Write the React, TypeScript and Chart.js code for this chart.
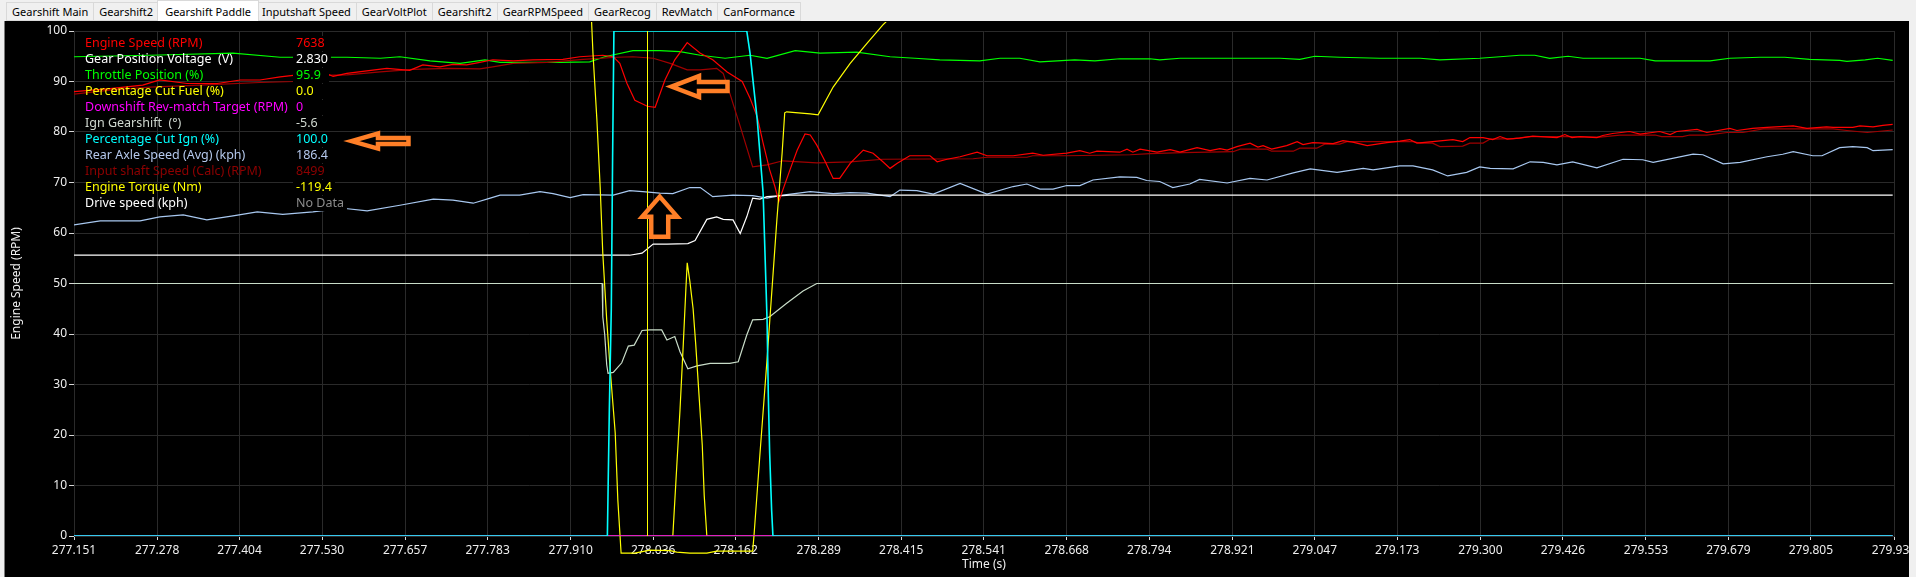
import { useEffect, useRef } from 'react';
import { Chart, registerables } from 'chart.js';

Chart.register(...registerables);

const FONT = '"Noto Sans", "DejaVu Sans", sans-serif';

const tabNames = ['Gearshift Main', 'Gearshift2', 'Gearshift Paddle', 'Inputshaft Speed', 'GearVoltPlot', 'Gearshift2', 'GearRPMSpeed', 'GearRecog', 'RevMatch', 'CanFormance'];
const activeTab = 2;

const xMin = 277.151;
const xMax = 279.932;
const xTickLabels = ['277.151', '277.278', '277.404', '277.530', '277.657', '277.783', '277.910', '278.036', '278.162', '278.289', '278.415', '278.541', '278.668', '278.794', '278.921', '279.047', '279.173', '279.300', '279.426', '279.553', '279.679', '279.805', '279.932'];
const yMin = 0;
const yMax = 100;
const yStep = 10;
const cursorTime = 278.027;

// Throttle Position (%)
const throttleT = [277.151, 277.267, 277.394, 277.466, 277.568, 277.619, 277.649, 277.695, 277.741, 277.779, 277.802, 277.894, 277.939, 277.962, 278.005, 278.046, 278.077, 278.108, 278.146, 278.184, 278.210, 278.253, 278.291, 278.347, 278.398, 278.436, 278.474, 278.535, 278.566, 278.596, 278.627, 278.680, 278.711, 278.749, 278.795, 278.810, 278.841, 278.994, 279.024, 279.047, 279.085, 279.146, 279.208, 279.238, 279.299, 279.330, 279.360, 279.383, 279.406, 279.434, 279.457, 279.544, 279.567, 279.651, 279.681, 279.727, 279.765, 279.803, 279.849, 279.860, 279.888, 279.907, 279.930];
const throttleV = [94.9, 95.2, 95.6, 94.8, 94.8, 94.6, 94.9, 94.1, 93.6, 94.3, 93.8, 93.8, 93.9, 94.9, 96.1, 96.1, 95.9, 95.2, 94.6, 95.2, 94.6, 96.1, 95.6, 95.8, 94.9, 94.6, 94.3, 94.1, 94.6, 94.6, 93.9, 94.3, 94.1, 94.5, 94.5, 94.3, 94.6, 94.6, 94.4, 95.0, 94.8, 94.6, 94.6, 94.3, 94.6, 94.9, 95.2, 95.2, 94.6, 95.0, 94.6, 94.6, 94.1, 94.1, 94.6, 94.8, 94.8, 94.4, 94.2, 94.0, 94.3, 94.6, 94.2];

// Engine Speed (scaled)
const engineT = [277.151, 277.206, 277.256, 277.282, 277.324, 277.370, 277.405, 277.435, 277.466, 277.486, 277.531, 277.547, 277.568, 277.629, 277.664, 277.684, 277.710, 277.730, 277.751, 277.771, 277.791, 277.822, 277.852, 277.898, 277.924, 277.959, 277.975, 277.985, 277.996, 278.008, 278.027, 278.039, 278.054, 278.069, 278.088, 278.108, 278.127, 278.149, 278.172, 278.184, 278.195, 278.204, 278.214, 278.222, 278.228, 278.234, 278.245, 278.256, 278.268, 278.276, 278.286, 278.299, 278.311, 278.321, 278.337, 278.357, 278.372, 278.387, 278.398, 278.409, 278.428, 278.459, 278.470, 278.485, 278.505, 278.531, 278.546, 278.586, 278.616, 278.632, 278.668, 278.688, 278.703, 278.714, 278.749, 278.760, 278.769, 278.780, 278.806, 278.826, 278.841, 278.867, 278.887, 278.902, 278.913, 278.928, 278.948, 278.960, 278.968, 278.981, 279.004, 279.020, 279.029, 279.044, 279.075, 279.090, 279.105, 279.127, 279.157, 279.177, 279.192, 279.203, 279.227, 279.258, 279.273, 279.284, 279.304, 279.319, 279.330, 279.341, 279.360, 279.380, 279.417, 279.429, 279.440, 279.452, 279.478, 279.487, 279.502, 279.528, 279.544, 279.574, 279.590, 279.600, 279.631, 279.646, 279.681, 279.692, 279.716, 279.738, 279.778, 279.799, 279.829, 279.839, 279.869, 279.880, 279.900, 279.915, 279.930];
const engineV = [88.0, 88.6, 89.3, 90.3, 89.6, 89.6, 90.3, 90.3, 90.9, 91.2, 91.9, 91.0, 91.6, 92.6, 92.2, 93.3, 92.9, 93.4, 93.3, 93.8, 94.3, 94.1, 94.3, 94.4, 94.9, 95.2, 94.9, 93.6, 89.6, 86.3, 85.1, 84.9, 90.3, 94.3, 97.7, 95.6, 94.3, 91.9, 90.0, 86.7, 83.0, 77.8, 72.5, 69.2, 66.2, 68.5, 72.5, 76.4, 79.6, 79.4, 77.4, 74.1, 70.8, 70.8, 73.8, 76.4, 75.8, 74.1, 72.8, 73.8, 75.3, 75.3, 74.1, 74.6, 75.1, 76.0, 75.3, 75.3, 75.8, 75.4, 75.8, 76.3, 75.8, 76.2, 76.0, 76.6, 76.0, 76.6, 76.0, 76.5, 76.0, 76.9, 76.3, 76.7, 76.4, 77.1, 77.8, 77.0, 77.3, 76.6, 77.3, 78.1, 77.5, 77.9, 77.7, 78.3, 78.0, 77.3, 77.9, 78.2, 78.5, 77.8, 78.1, 78.5, 78.1, 78.9, 78.9, 78.5, 79.1, 78.6, 78.8, 79.2, 78.9, 79.5, 78.9, 79.1, 78.9, 79.3, 79.7, 80.1, 79.6, 80.1, 79.5, 80.1, 80.5, 79.9, 80.7, 80.3, 80.7, 80.9, 81.2, 80.7, 81.0, 80.9, 80.9, 81.2, 81.0, 81.3, 81.5];

// Input shaft Speed (Calc) (scaled)
const inputT = [277.151, 277.206, 277.267, 277.343, 277.435, 277.486, 277.531, 277.568, 277.619, 277.669, 277.721, 277.771, 277.791, 277.822, 277.874, 277.929, 277.981, 278.005, 278.036, 278.062, 278.088, 278.108, 278.133, 278.143, 278.153, 278.169, 278.188, 278.210, 278.234, 278.286, 278.337, 278.387, 278.525, 278.546, 278.607, 278.616, 278.668, 278.765, 278.795, 278.845, 278.922, 278.933, 278.974, 278.981, 279.014, 279.024, 279.050, 279.062, 279.085, 279.096, 279.197, 279.208, 279.227, 279.238, 279.273, 279.284, 279.304, 279.315, 279.350, 279.376, 279.432, 279.483, 279.513, 279.567, 279.577, 279.609, 279.620, 279.646, 279.677, 279.701, 279.732, 279.839, 279.860, 279.891, 279.930];
const inputV = [87.5, 88.3, 88.9, 89.3, 89.8, 90.0, 91.2, 91.3, 91.9, 92.4, 92.6, 92.5, 92.9, 93.6, 93.8, 94.4, 94.8, 94.9, 94.6, 93.6, 92.3, 92.3, 92.6, 91.6, 87.7, 81.1, 73.1, 73.5, 74.3, 73.9, 74.1, 74.6, 74.7, 75.0, 75.0, 75.3, 75.3, 75.5, 75.7, 75.9, 76.1, 76.6, 76.6, 76.2, 76.2, 76.8, 76.8, 77.6, 77.6, 78.1, 78.1, 77.8, 77.8, 77.1, 77.2, 77.8, 77.8, 78.6, 78.7, 79.1, 79.1, 79.0, 79.4, 79.4, 79.1, 79.1, 79.4, 79.4, 79.9, 79.9, 80.6, 80.6, 80.3, 79.9, 80.4];

// Rear Axle Speed (Avg) (scaled)
const axleT = [277.151, 277.191, 277.252, 277.282, 277.318, 277.354, 277.394, 277.431, 277.470, 277.516, 277.562, 277.599, 277.649, 277.700, 277.730, 277.761, 277.787, 277.802, 277.832, 277.863, 277.883, 277.909, 277.929, 277.975, 278.000, 278.020, 278.046, 278.066, 278.092, 278.108, 278.127, 278.158, 278.188, 278.210, 278.234, 278.276, 278.311, 278.337, 278.363, 278.398, 278.413, 278.439, 278.464, 278.505, 278.546, 278.586, 278.607, 278.627, 278.647, 278.668, 278.688, 278.708, 278.749, 278.775, 278.790, 278.810, 278.830, 278.856, 278.871, 278.913, 278.948, 278.974, 279.014, 279.040, 279.081, 279.121, 279.136, 279.177, 279.197, 279.227, 279.250, 279.279, 279.299, 279.315, 279.350, 279.376, 279.396, 279.417, 279.441, 279.478, 279.518, 279.548, 279.564, 279.625, 279.640, 279.671, 279.697, 279.738, 279.762, 279.778, 279.808, 279.822, 279.849, 279.869, 279.891, 279.900, 279.930];
const axleV = [61.6, 62.4, 62.4, 63.2, 63.6, 62.6, 63.4, 64.2, 63.7, 64.2, 64.9, 64.4, 65.5, 66.7, 66.5, 65.9, 66.9, 67.5, 67.5, 68.2, 67.8, 67.0, 67.6, 67.5, 68.4, 68.2, 67.9, 67.8, 69.0, 69.0, 67.2, 67.5, 67.4, 66.9, 67.5, 68.2, 67.8, 68.0, 67.9, 67.2, 68.5, 68.4, 67.7, 69.8, 67.7, 69.2, 69.7, 68.7, 68.7, 69.4, 69.4, 70.5, 71.1, 71.0, 70.4, 70.2, 69.0, 69.7, 70.6, 69.9, 70.8, 70.5, 71.9, 72.7, 72.0, 72.8, 72.5, 73.3, 73.3, 72.5, 71.3, 72.0, 73.1, 72.8, 72.7, 74.1, 74.0, 73.5, 74.1, 72.9, 74.6, 74.5, 74.0, 75.6, 75.5, 73.7, 74.0, 75.1, 75.6, 76.1, 75.3, 75.3, 76.9, 77.1, 76.9, 76.3, 76.5];

// Gear Position Voltage (scaled)
const gearVoltT = [277.151, 278.000, 278.019, 278.036, 278.057, 278.089, 278.100, 278.118, 278.133, 278.143, 278.158, 278.169, 278.179, 278.188, 278.199, 278.210, 278.245, 279.930];
const gearVoltV = [55.6, 55.6, 56.0, 57.8, 57.8, 57.9, 58.5, 62.7, 63.2, 62.7, 62.6, 59.9, 63.2, 66.9, 66.7, 67.2, 67.5, 67.5];

// Ign Gearshift (scaled)
const ignT = [277.151, 277.958, 277.959, 277.962, 277.965, 277.967, 277.975, 277.988, 277.998, 278.007, 278.019, 278.031, 278.049, 278.057, 278.069, 278.077, 278.089, 278.103, 278.123, 278.153, 278.166, 278.179, 278.188, 278.204, 278.214, 278.240, 278.265, 278.286, 279.930];
const ignV = [50.0, 50.0, 43.4, 39.8, 33.9, 32.2, 32.4, 34.3, 37.6, 37.8, 40.7, 40.8, 40.8, 38.8, 39.5, 36.5, 33.1, 33.7, 34.2, 34.2, 34.5, 39.8, 42.8, 42.9, 43.4, 46.1, 48.5, 50.0, 50.0];

// Percentage Cut Ign (%)
const cutIgnT = [277.151, 277.966, 277.969, 277.972, 277.974, 277.976, 278.179, 278.184, 278.195, 278.204, 278.210, 278.212, 278.214, 278.217, 278.219, 279.930];
const cutIgnV = [0, 0, 25, 45, 75, 100, 100, 95.6, 82.4, 67.9, 42.8, 27.5, 16.4, 5.1, 0, 0];

// Downshift Rev-match Target
const revMatchT = [277.151, 279.930];
const revMatchV = [0, 0];

// Percentage Cut Fuel (%)
const cutFuelT = [277.151, 278.066, 278.072, 278.077, 278.082, 278.086, 278.088, 278.092, 278.097, 278.101, 278.106, 278.111, 278.114, 278.118, 279.930];
const cutFuelV = [0, 0, 13.7, 25, 38, 49, 54.1, 50.5, 45, 38, 28, 18, 8, 0, 0];

// Engine Torque (scaled)
const torqueT = [277.151, 277.935, 277.944, 277.950, 277.955, 277.959, 277.965, 277.970, 277.978, 277.982, 277.987, 278.008, 278.031, 278.062, 278.072, 278.092, 278.118, 278.133, 278.188, 278.190, 278.199, 278.210, 278.225, 278.233, 278.237, 278.240, 278.276, 278.288, 278.311, 278.337, 278.363, 278.387, 278.413, 278.489, 278.566, 279.930];
const torqueV = [160, 122, 95.6, 82.4, 69.1, 56.0, 42.8, 33.5, 20.4, 7.1, -3.4, -3.4, -2.8, -2.9, -3.2, -3.4, -3.4, -3.0, -3.0, 0, 16, 35, 62.6, 75.8, 83.8, 84.0, 83.6, 83.4, 88.9, 93.6, 97.6, 101.2, 104.5, 115, 125, 160];

// Legend (channel readout at cursor)
const legendNames = ['Engine Speed (RPM)', 'Gear Position Voltage  (V)', 'Throttle Position (%)', 'Percentage Cut Fuel (%)', 'Downshift Rev-match Target (RPM)', 'Ign Gearshift  (°)', 'Percentage Cut Ign (%)', 'Rear Axle Speed (Avg) (kph)', 'Input shaft Speed (Calc) (RPM)', 'Engine Torque (Nm)', 'Drive speed (kph)'];
const legendValues = ['7638', '2.830', '95.9', '0.0', '0', '-5.6', '100.0', '186.4', '8499', '-119.4', 'No Data'];
const legendColors = ['#ff0000', '#ffffff', '#00ff00', '#ffff00', '#ff00ff', '#d0d8d0', '#00ffff', '#b4c8ec', '#8e0000', '#ffff00', '#ffffff'];
const legendValueColors = ['#ff0000', '#ffffff', '#00ff00', '#ffff00', '#ff00ff', '#d0d8d0', '#00ffff', '#b4c8ec', '#8e0000', '#ffff00', '#8c8c8c'];

// Screenshot annotations (orange arrows), anchored in data space
const arrowTips = [
  { t: 278.064, v: 89.0, dir: 'left', len: 56, head: 27.5, headHalf: 10.5, shaftHalf: 4.5 },
  { t: 277.575, v: 78.2, dir: 'left', len: 57, head: 26.5, headHalf: 7.5, shaftHalf: 3 },
  { t: 278.046, v: 67.2, dir: 'up', len: 40, head: 20, headHalf: 17.5, shaftHalf: 8.5 },
];

const pairs = (ts: number[], vs: number[]) => ts.map((t, i) => ({ x: t, y: vs[i] }));

const overlayPlugin = {
  id: 'overlay',
  afterDatasetsDraw(chart: any) {
    const { ctx, chartArea, scales } = chart;
    const xs = scales.x;
    const ys = scales.y;
    ctx.save();
    // cursor
    const cx = Math.round(xs.getPixelForValue(cursorTime)) + 0.5;
    ctx.strokeStyle = '#ffff00';
    ctx.lineWidth = 1;
    ctx.beginPath();
    ctx.moveTo(cx, chartArea.top);
    ctx.lineTo(cx, chartArea.bottom);
    ctx.stroke();

    // legend readout
    ctx.font = `12.5px ${FONT}`;
    ctx.textBaseline = 'middle';
    ctx.textAlign = 'left';
    const nameX = chartArea.left + 11;
    const valX = chartArea.left + 222;
    legendNames.forEach((name, i) => {
      const y = chartArea.top + 12.5 + i * 16;
      ctx.fillStyle = legendColors[i];
      ctx.fillText(name, nameX, y);
      const w = ctx.measureText(legendValues[i]).width;
      ctx.fillStyle = '#000000';
      ctx.fillRect(valX - 3, y - 7.5, Math.max(w, 30) + 6, 15);
      ctx.fillStyle = legendValueColors[i];
      ctx.fillText(legendValues[i], valX, y);
    });

    // arrows
    ctx.strokeStyle = '#ff7f27';
    ctx.fillStyle = '#000000';
    ctx.lineWidth = 4.5;
    ctx.lineJoin = 'miter';
    arrowTips.forEach((a) => {
      const px = xs.getPixelForValue(a.t);
      const py = ys.getPixelForValue(a.v);
      const pts: number[][] = [];
      if (a.dir === 'left') {
        pts.push([px, py], [px + a.head, py - a.headHalf], [px + a.head, py - a.shaftHalf], [px + a.len, py - a.shaftHalf], [px + a.len, py + a.shaftHalf], [px + a.head, py + a.shaftHalf], [px + a.head, py + a.headHalf]);
      } else {
        pts.push([px, py], [px + a.headHalf, py + a.head], [px + a.shaftHalf, py + a.head], [px + a.shaftHalf, py + a.len], [px - a.shaftHalf, py + a.len], [px - a.shaftHalf, py + a.head], [px - a.headHalf, py + a.head]);
      }
      ctx.beginPath();
      pts.forEach((p, i) => (i === 0 ? ctx.moveTo(p[0], p[1]) : ctx.lineTo(p[0], p[1])));
      ctx.closePath();
      ctx.fill();
      ctx.stroke();
    });
    ctx.restore();
  },
};

function App() {
  const canvasRef = useRef<HTMLCanvasElement | null>(null);

  useEffect(() => {
    document.body.style.margin = '0';
    const canvas = canvasRef.current;
    if (!canvas) return;
    const base = { pointRadius: 0, borderWidth: 1.2, tension: 0, fill: false, spanGaps: true };
    const chart = new Chart(canvas, {
      type: 'line',
      data: {
        datasets: [
          { ...base, label: 'Percentage Cut Ign (%)', data: pairs(cutIgnT, cutIgnV), borderColor: '#00ffff', borderWidth: 1.6 },
          { ...base, label: 'Downshift Rev-match Target (RPM)', data: pairs(revMatchT, revMatchV), borderColor: '#ff00ff', borderWidth: 1.6 },
          { ...base, label: 'Percentage Cut Fuel (%)', data: pairs(cutFuelT, cutFuelV), borderColor: '#ffff00' },
          { ...base, label: 'Engine Torque (Nm)', data: pairs(torqueT, torqueV), borderColor: '#ffff00', clip: { left: 0, top: 9, right: 0, bottom: 20 } },
          { ...base, label: 'Engine Speed (RPM)', data: pairs(engineT, engineV), borderColor: '#ff0000' },
          { ...base, label: 'Input shaft Speed (Calc) (RPM)', data: pairs(inputT, inputV), borderColor: '#a00000' },
          { ...base, label: 'Throttle Position (%)', data: pairs(throttleT, throttleV), borderColor: '#00ff00' },
          { ...base, label: 'Gear Position Voltage (V)', data: pairs(gearVoltT, gearVoltV), borderColor: '#ffffff' },
          { ...base, label: 'Rear Axle Speed (Avg) (kph)', data: pairs(axleT, axleV), borderColor: '#a8c8f0' },
          { ...base, label: 'Ign Gearshift (°)', data: pairs(ignT, ignV), borderColor: '#c8dcc8' },
        ] as any,
      },
      options: {
        animation: false,
        responsive: false,
        maintainAspectRatio: false,
        devicePixelRatio: 1,
        events: [],
        parsing: false,
        normalized: true,
        layout: { padding: { left: 0, right: 15, top: 10, bottom: 0 } },
        plugins: { legend: { display: false }, tooltip: { enabled: false } },
        scales: {
          x: {
            type: 'linear',
            min: xMin,
            max: xMax,
            afterBuildTicks: (s: any) => {
              s.ticks = xTickLabels.map((l) => ({ value: parseFloat(l) }));
            },
            afterFit: (s: any) => {
              s.height = 41;
              s.paddingLeft = 0;
              s.paddingRight = 0;
            },
            ticks: {
              autoSkip: false,
              maxRotation: 0,
              minRotation: 0,
              color: '#eeeeee',
              font: { family: FONT, size: 12 },
              padding: 3,
              callback: (_v: any, i: number) => xTickLabels[i],
            },
            grid: { color: '#2a2a2a', tickColor: '#d8d8d8', tickLength: 4, lineWidth: 1 },
            border: { color: '#2a2a2a' },
            title: { display: true, text: 'Time (s)', color: '#eeeeee', font: { family: FONT, size: 12 }, padding: { top: 0, bottom: 5 } },
          },
          y: {
            type: 'linear',
            min: yMin,
            max: yMax,
            afterFit: (s: any) => {
              s.width = 69;
              s.paddingTop = 0;
              s.paddingBottom = 0;
            },
            ticks: { stepSize: yStep, color: '#eeeeee', font: { family: FONT, size: 12 }, padding: 2 },
            grid: { color: '#2a2a2a', tickColor: '#d8d8d8', tickLength: 5, lineWidth: 1 },
            border: { color: '#2a2a2a' },
            title: { display: true, text: 'Engine Speed (RPM)', color: '#eeeeee', font: { family: FONT, size: 12 }, padding: { top: 4, bottom: 0 } },
          },
        },
      } as any,
      plugins: [overlayPlugin],
    });
    return () => chart.destroy();
  }, []);

  return (
    <div style={{ position: 'relative', width: 1916, height: 577, background: '#f0f0f0', overflow: 'hidden', fontFamily: FONT }}>
      <div style={{ position: 'absolute', left: 0, top: 0, width: 1916, height: 21, background: '#f0f0f0' }} />
      <div style={{ position: 'absolute', left: 6, top: 2, display: 'flex', alignItems: 'flex-start' }}>
        {tabNames.map((n, i) => {
          const active = i === activeTab;
          return (
            <div
              key={i}
              style={{
                boxSizing: 'border-box',
                height: active ? 21 : 19,
                marginTop: active ? -2 : 0,
                marginLeft: active ? -2 : 0,
                marginRight: active ? -2 : 0,
                padding: active ? '0 7px' : '0 5px',
                background: active ? '#ffffff' : '#f0f0f0',
                border: '1px solid #d9d9d9',
                borderBottom: active ? 'none' : '1px solid #d9d9d9',
                borderLeft: i === 0 || active ? '1px solid #d9d9d9' : 'none',
                display: 'flex',
                alignItems: 'center',
                fontSize: 11,
                color: '#000000',
                whiteSpace: 'nowrap',
                position: 'relative',
                zIndex: active ? 2 : 1,
              }}
            >
              {n}
            </div>
          );
        })}
      </div>
      <div style={{ position: 'absolute', left: 4, top: 21, width: 1, height: 556, background: '#7a7a7a' }} />
      <div style={{ position: 'absolute', left: 5, top: 21, width: 1904, height: 556, background: '#000000' }}>
        <canvas ref={canvasRef} width={1904} height={556} style={{ display: 'block' }} />
      </div>
    </div>
  );
}

export default App;
